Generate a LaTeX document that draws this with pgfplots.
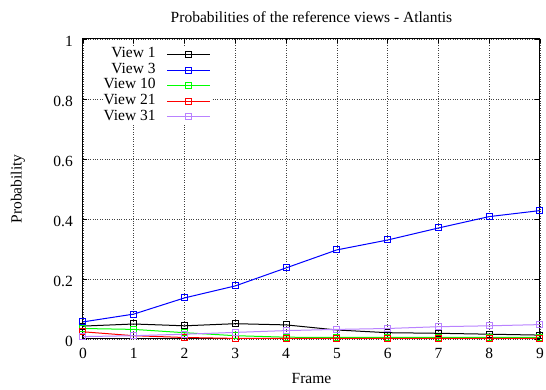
\documentclass[border=0pt]{standalone}
\usepackage{fontspec}
\setmainfont{Liberation Serif}
\usepackage{pgfplots}
\pgfplotsset{compat=1.18}

\definecolor{vpurple}{RGB}{185,130,255}

\begin{document}
\fontsize{15.5}{18}\selectfont
\begin{tikzpicture}
\useasboundingbox (-83pt,-51pt) rectangle (463pt,339pt);
\begin{axis}[
    scale only axis,
    width=457pt, height=300pt,
    at={(0,0)}, anchor=south west,
    xmin=0, xmax=9, ymin=0, ymax=1,
    xtick={0,1,...,9},
    ytick={0,0.2,0.4,0.6,0.8,1},
    /pgf/number format/assume math mode=true,
    tick align=inside,
    major tick length=4.5pt,
    tick style={black, line width=0.6pt},
    axis line style={black, line width=1pt},
    grid=major,
    major grid style={black!75, line width=0.6pt, dash pattern=on 0.8pt off 1.6pt},
    title={Probabilities of the reference views - Atlantis},
    title style={at={(axis description cs:0.5,1)}, anchor=base, yshift=10.6pt, inner sep=0pt},
    xlabel={Frame},
    xlabel style={at={(axis description cs:0.5,0)}, anchor=base, yshift=-45pt, inner sep=0pt},
    ylabel={Probability},
    ylabel style={at={(axis description cs:0,0.5)}, anchor=center, rotate=0, yshift=65pt, inner sep=0pt},
    xticklabel style={anchor=base, yshift=-19.5pt, inner sep=0pt},
    yticklabel style={anchor=east, xshift=-10pt, yshift=-2pt, inner sep=0pt},
    every axis plot/.append style={line width=1pt, mark=square, mark size=3pt, mark options={solid}},
    legend cell align=right,
    legend plot pos=right,
    legend style={at={(0.0446,0.975)}, anchor=north west, draw=none, fill=white,
        inner sep=0pt, column sep=11pt, row sep=0pt,
        nodes={inner sep=0pt, text height=11pt, text depth=4.6pt}},
    legend image code/.code={
        \draw[#1, mark=none] (0pt,0pt) -- (43pt,0pt);
        \draw[#1, only marks] plot coordinates {(21.5pt,0pt)};
    },
]
\addplot[black] coordinates {
    (0,0.043) (1,0.050) (2,0.044) (3,0.051) (4,0.047)
    (5,0.030) (6,0.021) (7,0.019) (8,0.016) (9,0.013)
};
\addlegendentry{View 1}
\addplot[blue] coordinates {
    (0,0.057) (1,0.083) (2,0.137) (3,0.177) (4,0.237)
    (5,0.297) (6,0.330) (7,0.370) (8,0.408) (9,0.428)
};
\addlegendentry{View 3}
\addplot[green] coordinates {
    (0,0.035) (1,0.032) (2,0.021) (3,0.011) (4,0.006)
    (5,0.005) (6,0.005) (7,0.005) (8,0.005) (9,0.005)
};
\addlegendentry{View 10}
\addplot[red] coordinates {
    (0,0.024) (1,0.011) (2,0.005) (3,0.002) (4,0.002)
    (5,0.002) (6,0.002) (7,0.002) (8,0.002) (9,0.002)
};
\addlegendentry{View 21}
\addplot[vpurple] coordinates {
    (0,0.008) (1,0.011) (2,0.016) (3,0.022) (4,0.028)
    (5,0.032) (6,0.035) (7,0.041) (8,0.044) (9,0.048)
};
\addlegendentry{View 31}
\end{axis}
\end{tikzpicture}
\end{document}
